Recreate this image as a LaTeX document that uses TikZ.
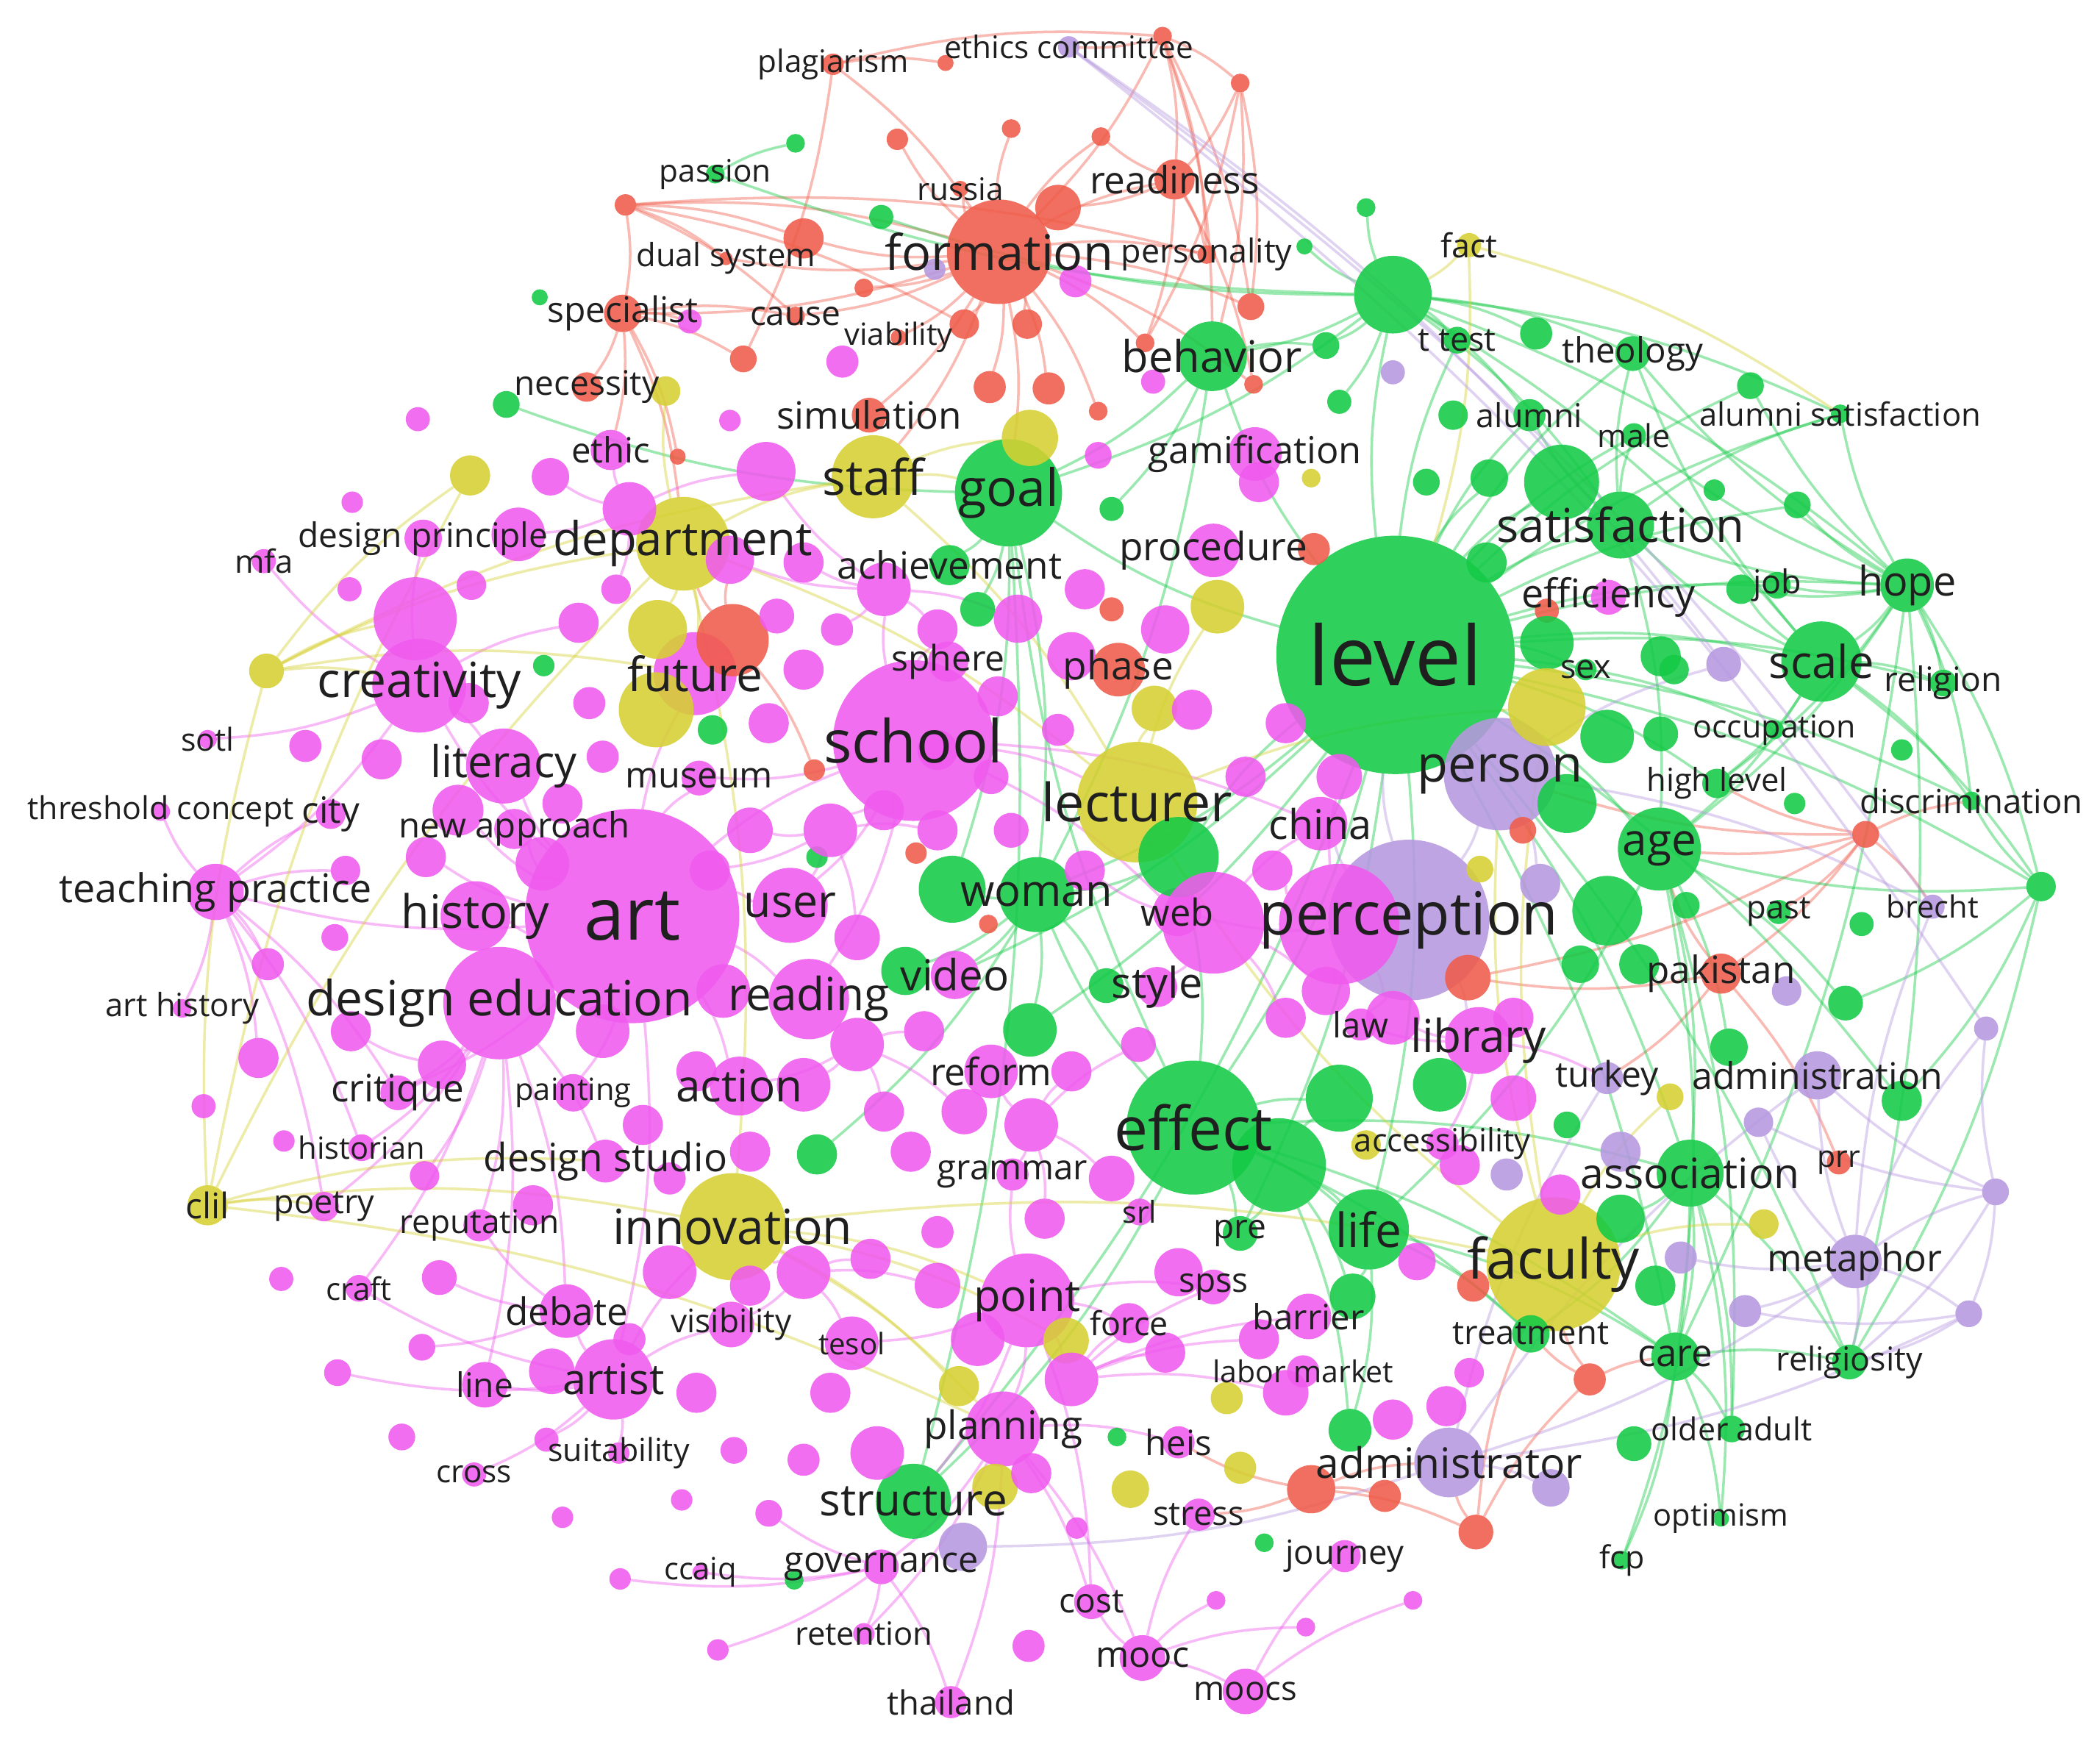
\documentclass[tikz,border=0pt]{standalone}
\usepackage{fontspec}
\setmainfont{Open Sans}
\definecolor{mg}{RGB}{240,90,238}
\definecolor{gr}{RGB}{20,202,70}
\definecolor{rd}{RGB}{240,92,74}
\definecolor{yl}{RGB}{214,208,50}
\definecolor{pu}{RGB}{182,152,224}
\tikzset{
  kw/.style={circle,inner sep=0pt,outer sep=0pt,fill opacity=0.88},
  link/.style={line width=0.55pt,draw opacity=0.42},
  kwtext/.style={inner sep=0pt,text=black!88}
}
\pgfdeclarelayer{back}
\pgfdeclarelayer{links}
\pgfdeclarelayer{texts}
\pgfsetlayers{back,links,main,texts}
% labelled keywords: name/x/y/diameter/colour/font size/text
\newcommand\kwlist{
  plagiarism/622/48/16/rd/6.6/plagiarism,
  ethics/798/35/16/pu/6.6/ethics committee,
  passion/534/130/14/gr/6.6/passion,
  russia/717/141/12/rd/6.6/russia,
  readiness/877/134/30/rd/8/readiness,
  dualsystem/542/193/10/rd/6.8/dual system,
  formation/746/188/78/rd/10.4/formation,
  personality/901/190/14/rd/7/personality,
  fact/1097/183/18/yl/7/fact,
  specialist/465/234/28/rd/7.5/specialist,
  cause/594/236/14/rd/7.2/cause,
  viability/671/252/12/rd/6.5/viability,
  behavior/905/266/52/gr/9.3/behavior,
  ttest/1088/254/20/gr/7/t test,
  theology/1219/264/26/gr/7.4/theology,
  necessity/438/289/22/rd/7.2/necessity,
  simulation/649/310/26/rd/8/simulation,
  alumni/1142/310/24/gr/7/alumni,
  male/1220/325/18/gr/6.7/male,
  alumnisat/1374/309/14/gr/6.8/alumni satisfaction,
  ethic/456/336/30/mg/7.4/ethic,
  gamification/937/339/40/mg/7.9/gamification,
  staff/652/356/62/yl/10.4/staff,
  goal/753/368/80/gr/10.9/goal,
  designprinciple/316/402/28/mg/7.2/design principle,
  department/510/406/70/yl/9.9/department,
  mfa/197/419/18/mg/6.8/mfa,
  achievement/709/422/30/gr/8/achievement,
  procedure/906/411/40/mg/8.3/procedure,
  satisfaction/1210/392/50/gr/9.9/satisfaction,
  efficiency/1201/446/26/mg/8.4/efficiency,
  job/1327/437/20/gr/7/job,
  hope/1424/437/40/gr/8.7/hope,
  level/1042/489/178/gr/17.5/level,
  creativity/313/512/70/mg/10.3/creativity,
  future/519/503/62/mg/10/future,
  sphere/708/494/30/mg/7.5/sphere,
  phase/835/500/40/rd/8.3/phase,
  sex/1184/500/16/gr/7/sex,
  scale/1360/494/60/gr/9.6/scale,
  religion/1451/510/20/gr/7.2/religion,
  sotl/155/552/14/mg/6.7/sotl,
  school/682/553/120/mg/12.6/school,
  occupation/1325/545/14/gr/6.7/occupation,
  literacy/376/572/56/mg/9.3/literacy,
  museum/522/581/26/mg/7.6/museum,
  person/1120/578/84/pu/10.7/person,
  highlevel/1282/585/22/gr/6.8/high level,
  threshold/120/606/14/mg/6.7/threshold concept,
  city/247/608/22/mg/7.7/city,
  newapproach/384/619/30/mg/7.4/new approach,
  lecturer/849/599/90/yl/11.2/lecturer,
  china/986/615/40/mg/8.7/china,
  discrimination/1472/598/14/gr/7.1/discrimination,
  age/1239/634/62/gr/9.4/age,
  teaching/161/666/42/mg/8.4/teaching practice,
  history/355/684/52/mg/9.8/history,
  art/472/684/160/mg/15.5/art,
  user/590/676/56/mg/9.5/user,
  woman/774/668/56/gr/9.3/woman,
  web/879/681/36/mg/7.9/web,
  perception/1052/687/120/pu/12.6/perception,
  past/1328/681/18/gr/6.8/past,
  brecht/1443/677/18/pu/6.5/brecht,
  pakistan/1285/727/30/rd/8/pakistan,
  arthistory/136/753/14/mg/6.8/art history,
  designedu/373/749/84/mg/10.3/design education,
  reading/604/746/60/mg/9.7/reading,
  video/713/728/36/mg/9.1/video,
  style/864/737/30/mg/9/style,
  law/1016/765/24/mg/7.4/law,
  library/1104/777/50/mg/9.7/library,
  turkey/1200/805/24/pu/7.5/turkey,
  administration/1357/803/36/pu/7.8/administration,
  critique/297/816/26/mg/8/critique,
  painting/428/816/28/mg/6.5/painting,
  action/552/811/44/mg/9.4/action,
  reform/740/800/40/mg/8/reform,
  effect/891/842/100/gr/12.8/effect,
  historian/270/857/20/mg/6.5/historian,
  designstudio/452/867/32/mg/8.3/design studio,
  grammar/756/877/24/mg/7.4/grammar,
  accessibility/1077/854/24/mg/6.8/accessibility,
  association/1262/876/50/gr/8.9/association,
  prr/1373/868/18/rd/6.4/prr,
  clil/155/900/30/yl/7.5/clil,
  poetry/242/901/22/mg/7/poetry,
  reputation/358/915/24/mg/6.9/reputation,
  innovation/547/916/80/yl/10.3/innovation,
  srl/851/905/20/mg/6.4/srl,
  pre/926/921/26/gr/7.2/pre,
  life/1022/918/60/gr/10/life,
  faculty/1160/944/100/yl/11.8/faculty,
  metaphor/1385/942/40/pu/8/metaphor,
  craft/268/962/20/mg/6.6/craft,
  debate/423/979/40/mg/8/debate,
  visibility/546/989/34/mg/6.9/visibility,
  point/767/971/70/mg/9.3/point,
  spss/906/961/26/mg/7.2/spss,
  force/843/988/30/mg/7/force,
  barrier/977/983/34/mg/7.4/barrier,
  treatment/1143/996/28/gr/7.1/treatment,
  tesol/636/1003/40/mg/6.3/tesol,
  care/1251/1013/36/gr/8/care,
  religiosity/1381/1017/26/gr/7/religiosity,
  line/362/1034/34/mg/7.2/line,
  artist/458/1030/60/mg/9/artist,
  labormarket/973/1024/24/mg/6.4/labor market,
  planning/749/1067/56/mg/8.3/planning,
  heis/880/1077/24/mg/7.4/heis,
  olderadult/1293/1067/20/gr/6.7/older adult,
  administrator/1082/1092/52/pu/8.9/administrator,
  cross/354/1101/18/mg/6.6/cross,
  suitability/462/1085/16/mg/6.7/suitability,
  structure/682/1121/56/gr/9.4/structure,
  stress/895/1131/24/mg/7.1/stress,
  optimism/1285/1134/12/gr/6.5/optimism,
  ccaiq/523/1174/12/mg/6.5/ccaiq,
  governance/658/1170/26/mg/7.6/governance,
  journey/1004/1162/24/mg/7.1/journey,
  fcp/1211/1165/14/gr/6.7/fcp,
  cost/815/1196/26/mg/7.2/cost,
  retention/645/1220/16/mg/6.8/retention,
  mooc/853/1238/34/mg/7.6/mooc,
  thailand/710/1271/24/mg/7.1/thailand,
  moocs/930/1263/34/mg/7.1/moocs}
% unlabelled keywords: name/x/y/diameter/colour
\newcommand\dotlist{
  r1/868/27/14/rd, r2/926/62/14/rd, r3/706/47/12/rd, r4/670/104/16/rd,
  r5/755/96/14/rd, r6/822/102/14/rd, r7/467/153/16/rd, r8/600/178/30/rd,
  r9/790/155/34/rd, r10/720/242/22/rd, r11/767/242/22/rd, r12/739/289/24/rd,
  r13/783/290/24/rd, r14/820/307/14/rd, r15/855/256/14/rd, r16/934/229/20/rd,
  r17/936/287/14/rd, r18/645/215/14/rd, r19/555/268/20/rd, r20/506/341/12/rd,
  r21/547/478/54/rd, r22/608/575/16/rd, r23/684/637/16/rd, r24/738/690/14/rd,
  r25/830/455/18/rd, r26/981/410/24/rd, r27/1155/456/18/rd, r28/1393/623/20/rd,
  r29/1096/730/34/rd, r30/1137/620/20/rd, r31/1100/960/24/rd, r32/1187/1030/24/rd,
  r33/1102/1144/26/rd, r34/979/1112/36/rd, r35/1034/1117/24/rd,
  g1/594/107/14/gr, g2/403/222/12/gr, g3/378/302/20/gr, g4/658/162/18/gr,
  g5/1020/155/14/gr, g6/974/184/12/gr, g7/1040/220/58/gr, g8/1147/249/24/gr,
  g9/990/258/20/gr, g10/1085/310/22/gr, g11/1065/360/20/gr, g12/1112/357/28/gr,
  g13/1166/360/56/gr, g14/1280/366/16/gr, g15/1342/377/20/gr, g16/1307/288/20/gr,
  g17/1000/300/18/gr, g18/830/380/18/gr, g19/406/497/16/gr, g20/532/545/22/gr,
  g21/1200/550/40/gr, g22/1240/548/26/gr, g23/1250/500/22/gr, g24/1300/440/22/gr,
  g25/1170/600/44/gr, g26/1200/680/52/gr, g27/1180/720/28/gr, g28/1224/720/30/gr,
  g29/1259/676/20/gr, g30/1291/782/28/gr, g31/1378/749/26/gr, g32/1420/822/30/gr,
  g33/1524/662/22/gr, g34/1170/840/20/gr, g35/1210/910/36/gr, g36/1010/968/34/gr,
  g37/955/870/70/gr, g38/1000/820/50/gr, g39/1075/810/40/gr, g40/769/769/40/gr,
  g41/826/736/26/gr, g42/676/725/36/gr, g43/711/664/50/gr, g44/880/640/60/gr,
  g45/610/862/30/gr, g46/1008/1068/32/gr, g47/834/1073/14/gr, g48/944/1152/14/gr,
  g49/593/1180/14/gr, g50/1220/1078/26/gr, g51/730/455/26/gr, g53/1390/690/18/gr,
  g54/1340/600/16/gr, g55/1420/560/16/gr, g57/610/640/16/gr, g58/1155/480/40/gr,
  g59/1110/420/30/gr, g60/1236/960/30/gr, g61/1240/490/30/gr,
  y1/497/292/22/yl, y2/351/355/30/yl, y3/769/327/42/yl, y4/199/501/26/yl,
  y5/491/470/44/yl, y6/490/530/56/yl, y7/1155/528/58/yl, y8/1020/855/22/yl,
  y9/1317/914/22/yl, y10/716/1035/30/yl, y11/796/1001/34/yl, y12/743/1110/34/yl,
  y13/844/1112/28/yl, y14/926/1096/24/yl, y15/916/1044/24/yl, y16/1247/819/20/yl,
  y17/909/453/40/yl, y18/862/529/34/yl, y19/979/357/14/yl, y20/1105/649/20/yl,
  p2/698/201/16/pu, p3/1040/278/18/pu, p4/1287/496/26/pu, p5/1150/660/30/pu,
  p6/1334/740/22/pu, p7/1483/768/18/pu, p8/1313/838/22/pu, p9/1210/860/30/pu,
  p10/1490/890/20/pu, p11/1470/981/20/pu, p12/1303/979/24/pu, p13/1255/939/24/pu,
  p14/1158/1111/28/pu, p15/719/1155/36/pu, p16/1125/877/24/pu,
  m1/312/313/18/mg, m2/263/375/16/mg, m3/411/356/28/mg, m4/470/380/40/mg,
  m5/387/399/40/mg, m6/261/440/18/mg, m7/352/437/22/mg, m8/310/462/62/mg,
  m9/432/465/30/mg, m10/460/440/22/mg, m11/572/352/44/mg, m12/545/418/36/mg,
  m13/545/314/16/mg, m14/629/270/24/mg, m15/228/557/24/mg, m16/285/567/30/mg,
  m17/350/525/30/mg, m18/440/525/24/mg, m19/450/565/24/mg, m20/574/540/30/mg,
  m21/258/650/22/mg, m22/318/640/30/mg, m23/342/605/38/mg, m24/405/645/40/mg,
  m25/200/720/24/mg, m26/193/790/30/mg, m27/250/700/20/mg, m28/262/770/30/mg,
  m29/330/795/36/mg, m30/450/770/40/mg, m31/212/852/16/mg, m32/152/826/18/mg,
  m33/317/878/22/mg, m34/398/900/30/mg, m35/210/955/18/mg, m36/328/954/26/mg,
  m37/252/1025/20/mg, m38/300/1073/20/mg, m39/408/1075/18/mg, m40/420/1133/16/mg,
  m41/463/1179/16/mg, m42/412/1024/34/mg, m43/315/1006/20/mg, m44/600/1090/24/mg,
  m45/548/1083/20/mg, m46/574/1130/20/mg, m47/509/1120/16/mg, m48/536/1232/16/mg,
  m49/655/1085/40/mg, m50/770/1100/30/mg, m51/804/1141/16/mg, m52/768/1229/24/mg,
  m53/908/1195/14/mg, m54/975/1215/14/mg, m55/1055/1195/14/mg, m56/600/420/30/mg,
  m57/660/440/40/mg, m58/625/470/24/mg, m59/700/470/30/mg, m60/760/462/36/mg,
  m61/810/440/30/mg, m62/870/470/36/mg, m63/800/490/36/mg, m64/745/520/30/mg,
  m65/790/545/24/mg, m66/600/500/30/mg, m67/580/460/26/mg, m68/620/620/40/mg,
  m69/660/605/30/mg, m70/560/620/34/mg, m71/530/650/30/mg, m72/640/700/34/mg,
  m73/700/620/30/mg, m74/755/620/26/mg, m75/810/650/30/mg, m76/640/780/40/mg,
  m77/690/770/30/mg, m78/720/830/34/mg, m79/660/830/30/mg, m80/600/810/40/mg,
  m81/680/860/30/mg, m82/770/840/40/mg, m83/800/800/30/mg, m84/850/780/26/mg,
  m85/830/880/34/mg, m86/780/910/30/mg, m87/700/920/24/mg, m88/600/950/40/mg,
  m89/650/940/30/mg, m90/700/960/34/mg, m91/730/1000/40/mg, m92/800/1030/40/mg,
  m93/870/1010/30/mg, m94/960/1040/34/mg, m95/940/1000/30/mg, m96/880/950/36/mg,
  m97/1000/580/34/mg, m98/960/540/30/mg, m99/950/650/30/mg, m100/990/740/36/mg,
  m101/960/760/30/mg, m102/1040/760/40/mg, m103/1130/760/30/mg, m104/1130/820/34/mg,
  m105/1165/892/30/mg, m106/1058/942/28/mg, m107/1097/1025/22/mg, m108/1080/1050/30/mg,
  m109/1040/1060/30/mg, m110/906/689/76/mg, m111/1000/690/90/mg, m112/861/285/18/mg,
  m113/803/210/24/mg, m114/515/240/18/mg, m115/420/600/30/mg, m116/540/740/40/mg,
  m117/520/800/30/mg, m118/480/840/30/mg, m119/500/880/24/mg, m120/560/860/30/mg,
  m121/700/560/30/mg, m122/560/960/30/mg, m123/500/950/40/mg, m124/470/1000/24/mg,
  m125/620/1040/30/mg, m126/520/1040/30/mg, m130/940/360/30/mg, m131/820/340/20/mg,
  m134/1090/870/30/mg, m135/930/580/30/mg, m136/890/530/30/mg, m137/740/580/26/mg}
% links: source/colour/{targets}
\newcommand\linklist{
  r7/rd/{formation,r8,dualsystem,personality,cause,specialist,r10},
  plagiarism/rd/{r19,formation,r1,r3},
  r1/rd/{readiness,r2,formation,personality,r16,ethics,behavior},
  r2/rd/{readiness,r15,r16,behavior},
  formation/rd/{r4,r5,r6,r9,readiness,r8,specialist,cause,viability,r10,r11,r12,r13,r14,r15,r16,personality,staff,goal,r18,simulation,r17,russia,dualsystem},
  specialist/rd/{necessity,ethic,department,r19,cause,m114,r20},
  readiness/rd/{r9,r6,r15,personality,r17},
  r28/rd/{age,highlevel,pakistan,past,brecht,r29,person,discrimination},
  pakistan/rd/{prr,age,r29,turkey},
  r34/rd/{administrator,r35,heis,stress,r33},
  r33/rd/{administrator,r32,faculty},
  r32/rd/{faculty,care,treatment},
  r21/rd/{future,department,m12,r22},
  level/gr/{g7,hope,scale,theology,alumni,male,satisfaction,religion,age,discrimination,job,occupation,ttest,behavior,goal,g13,g12,alumnisat,highlevel,sex,woman,effect,life,association,care,religiosity,g33,g32,g16,g15,structure,video,g40,pre},
  g7/gr/{behavior,theology,ttest,alumni,g8,satisfaction,hope,scale,alumnisat,g5,g6,g9,g17,goal,g4,passion},
  hope/gr/{scale,religion,theology,alumnisat,male,satisfaction,job,discrimination,age,g33,g16,g15,g24,highlevel,religiosity,care},
  scale/gr/{religion,satisfaction,age,highlevel,g33,discrimination,theology,g24},
  satisfaction/gr/{alumni,male,theology,g13,age,alumnisat},
  g33/gr/{discrimination,g32,religiosity,age,g31},
  age/gr/{association,care,g30,life,g31,olderadult},
  effect/gr/{life,association,woman,goal,structure,pre,g37,g38,care,treatment},
  association/gr/{care,olderadult,religiosity,fcp,optimism,treatment,g35},
  care/gr/{olderadult,optimism,fcp,religiosity},
  behavior/gr/{goal,g9,woman,g18},
  passion/gr/{g1},
  goal/gr/{woman,achievement,g43,structure,g51,g3},
  life/gr/{g46,care,treatment,g36},
  g44/gr/{woman,effect,level},
  woman/gr/{g43,g42,g40,g41,video,g45},
  g37/gr/{g38,life,pre,g36,g46},
  art/mg/{history,designedu,creativity,literacy,user,reading,school,critique,teaching,artist,action,m22,m23,m24,m30,newapproach,painting,future,museum},
  school/mg/{user,sphere,museum,reading,m68,m69,m59,m57,lecturer,web,china},
  creativity/mg/{m8,designprinciple,literacy,mfa,m9,sotl,teaching},
  teaching/mg/{arthistory,threshold,city,m21,m25,m26,historian,critique,poetry},
  designedu/mg/{critique,historian,poetry,reputation,craft,debate,designstudio,m29,m33,line},
  artist/mg/{debate,line,cross,suitability,m42,m39,visibility,craft,m37,innovation},
  point/mg/{planning,force,tesol,grammar,cost,m91,m92,spss,structure},
  planning/mg/{cost,governance,thailand,retention,m50,heis,mooc},
  mooc/mg/{moocs,cost,stress,m53,m54},
  moocs/mg/{m55,journey},
  governance/mg/{ccaiq,m41,retention,m48,thailand,m46},
  library/mg/{law,turkey,m102,accessibility},
  debate/mg/{m36,m43,reputation},
  m29/mg/{m28,critique},
  m57/mg/{m59,m60,m56,m11,m12,m58},
  m68/mg/{m70,m71,m72,user,m73},
  m76/mg/{m77,m78,m79,m80,reading,action},
  m82/mg/{m83,m84,m85,m86,reform,grammar},
  m88/mg/{m89,m90,innovation,visibility,tesol},
  m92/mg/{m93,m94,m95,force,spss,barrier},
  m110/mg/{web,m75,style,m101,m100,china},
  m111/mg/{m102,m100,m99,m97},
  m4/mg/{m3,m5,m10,ethic,m11},
  clil/yl/{innovation,department,y4,planning,poetry,designstudio,y2},
  y4/yl/{department,creativity,future,m8,staff,y2},
  department/yl/{staff,future,y1,lecturer,innovation,y5},
  staff/yl/{y3,lecturer,goal},
  innovation/yl/{planning,y10,faculty,y11,point},
  faculty/yl/{y9,lecturer,person,y7,treatment,y16},
  lecturer/yl/{y17,y18,y7},
  fact/yl/{level,g7,alumnisat},
  metaphor/pu/{p10,p11,religiosity,administration,p12,p13,brecht,p7,p8,administrator},
  p10/pu/{p7,p11,administration,p8,religiosity},
  p11/pu/{administrator,religiosity,p12},
  ethics/pu/{p7,p4,brecht},
  administrator/pu/{p14,turkey,administration,p15},
  person/pu/{p4,p5,brecht,perception},
  perception/pu/{library,china,web,law,m111,level}}

\begin{document}
\begin{tikzpicture}[x=0.01cm,y=-0.01cm]
  \useasboundingbox (0,0) rectangle (1568,1302);
  \begin{pgfonlayer}{back}
    \fill[white] (0,0) rectangle (1568,1302);
  \end{pgfonlayer}

  % circles
  \foreach \nm/\x/\y/\dm/\col/\fsz/\txt in \kwlist
    \node[kw,fill=\col,minimum size=\dm*0.01cm] (\nm) at (\x,\y) {};
  \foreach \nm/\x/\y/\dm/\col in \dotlist
    \node[kw,fill=\col,minimum size=\dm*0.01cm] (\nm) at (\x,\y) {};

  % links
  \begin{pgfonlayer}{links}
    \foreach \src/\col/\dst in \linklist
      \foreach \tgt in \dst
        \draw[link,draw=\col] (\src) to[bend left=9] (\tgt);
  \end{pgfonlayer}

  % labels
  \begin{pgfonlayer}{texts}
    \foreach \nm/\x/\y/\dm/\col/\fsz/\txt in \kwlist
      \node[kwtext,font=\fontsize{\fsz}{\fsz}\selectfont] (t-\nm) at (\nm) {\txt};
  \end{pgfonlayer}
\end{tikzpicture}
\end{document}
